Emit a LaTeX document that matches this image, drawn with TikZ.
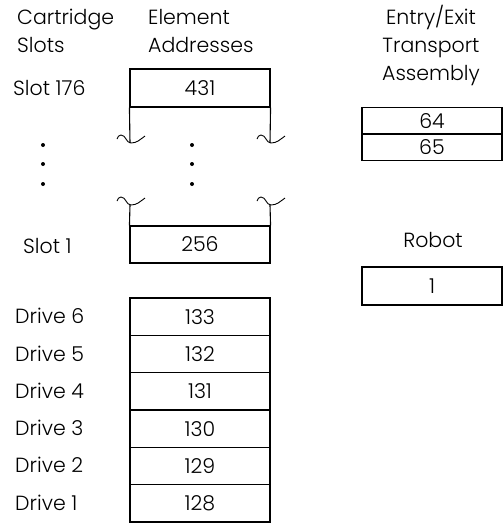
\documentclass[tikz,border=0pt]{standalone}
\usepackage{fontspec}
\setmainfont{Poppins Light}
\begin{document}
\begin{tikzpicture}[x=1pt,y=-1pt,
  lbl/.style={anchor=base west,inner sep=0pt,font=\fontsize{20.5}{22}\selectfont},
  clbl/.style={anchor=base,inner sep=0pt,font=\fontsize{20.5}{22}\selectfont},
  box/.style={draw,line width=1.1pt,minimum width=140pt,inner sep=0pt,font=\fontsize{20.5}{22}\selectfont},
  wave/.style={line width=0.9pt},
  edge/.style={line width=1.1pt},
  dot/.style={circle,fill,inner sep=0pt,minimum size=4pt}]
\useasboundingbox (0,0) rectangle (503,523);
% headers
\node[lbl] (h1) at (17,24) {Cartridge};
\node[lbl] (h2) at (17,52) {Slots};
\node[lbl] (h3) at (148,24) {Element};
\node[lbl] (h4) at (148,52) {Addresses};
\node[clbl] (h5) at (431,24) {Entry/Exit};
\node[clbl] (h6) at (431,52) {Transport};
\node[clbl] (h7) at (431,80) {Assembly};
% slots
\node[lbl] (ls176) at (13,95) {Slot 176};
\node[box,minimum height=38pt] (b431) at (200,88) {431};
\node[lbl] (ls1) at (23,253) {Slot 1};
\node[box,minimum height=37pt] (b256) at (200,244.5) {256};
% waves
\coordinate (w1) at (130,143);
\coordinate (w2) at (270,143);
\coordinate (w3) at (130,205);
\coordinate (w4) at (270,205);
\draw[edge] (b431.south west) -- (w1);
\draw[edge] (b431.south east) -- (w2);
\draw[edge] (b256.north west) -- (w3);
\draw[edge] (b256.north east) -- (w4);
\foreach \w in {w1,w2,w3,w4}{
  \draw[wave] ([shift={(-13,-4)}]\w) to[out=70,in=180] ([shift={(-9,-8)}]\w)
     to[out=0,in=180] ([shift={(1,0)}]\w) to[out=0,in=215] ([shift={(15,-7)}]\w);
}
% dots
\foreach \y [count=\i] in {145,164,184}{
  \node[dot] (dl\i) at (43,\y) {};
  \node[dot] (dm\i) at (192,\y) {};
}
% entry/exit
\node[box,minimum height=26.5pt] (b64) at (432,120.75) {64};
\node[box,minimum height=26.5pt] (b65) at (432,147.25) {65};
% robot
\node[clbl] (hr) at (433,247) {Robot};
\node[box,minimum height=38pt] (b1) at (432,286) {1};
% drives
\foreach \n [count=\i] in {133,132,131,130,129,128}{
  \pgfmathsetmacro{\yc}{298+37.33*(\i-1)+18.67}
  \pgfmathtruncatemacro{\d}{7-\i}
  \node[box,minimum height=37.33pt] (d\d) at (200,\yc) {\n};
  \node[lbl] (ld\d) at (15,\yc+7) {Drive \d};
}
\end{tikzpicture}
\end{document}
